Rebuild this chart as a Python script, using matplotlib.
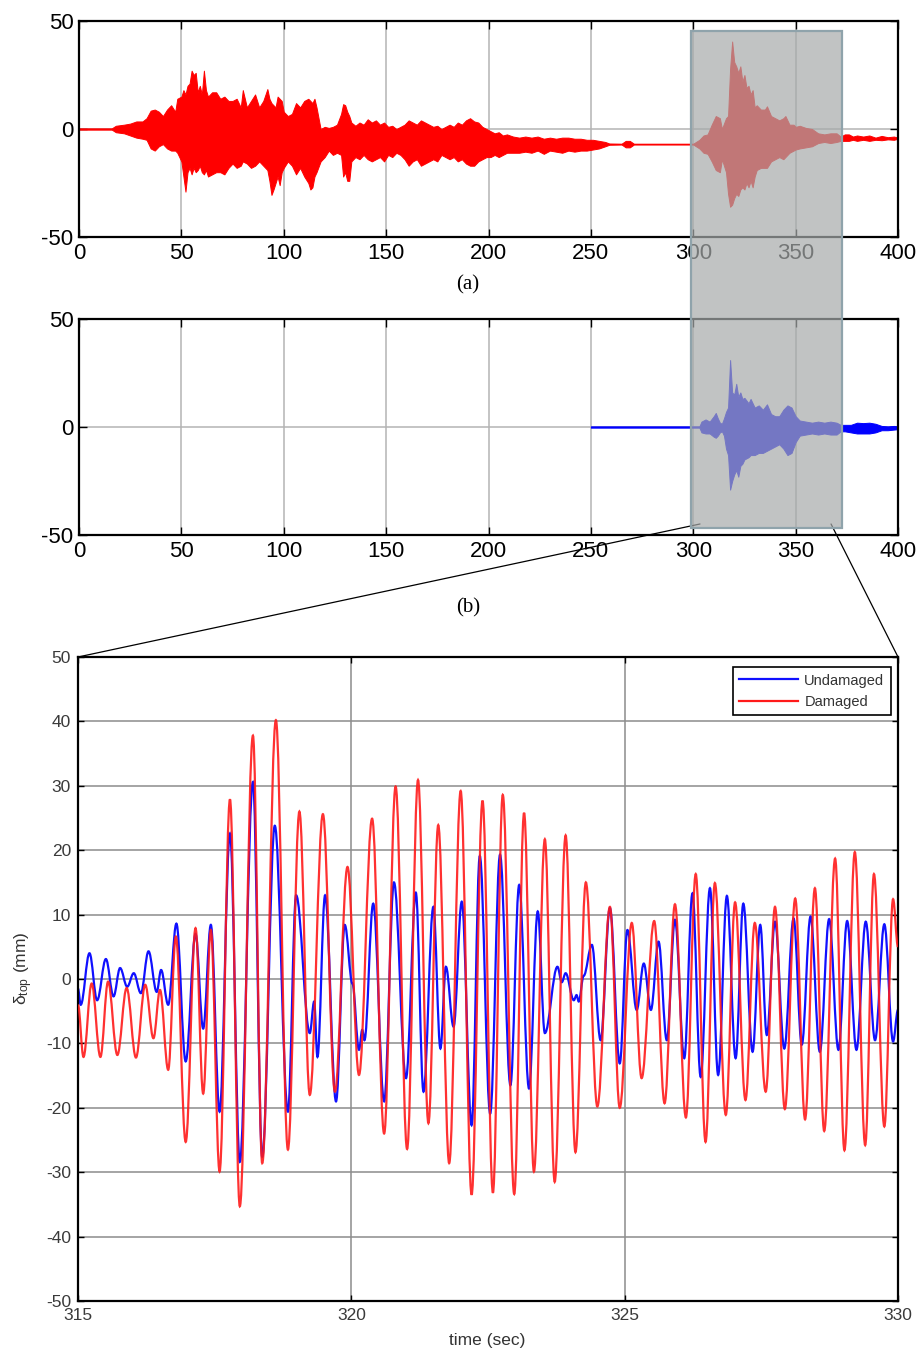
import matplotlib
matplotlib.use("Agg")
import matplotlib.pyplot as plt
from matplotlib.path import Path
from matplotlib.patches import PathPatch, Rectangle, ConnectionPatch
from matplotlib.lines import Line2D

plt.rcParams['axes.unicode_minus'] = False

# ---------------- data ----------------
# (a) damaged-structure top displacement, envelope of dense record
t_a = [0, 16, 18, 22, 25, 28, 31, 33,
       35, 37, 39, 41, 43, 45, 47, 48, 50, 51,
       52, 53, 54, 55, 56, 57, 58, 59, 60, 61,
       62, 63, 65, 67, 69, 71, 73, 75, 77, 79,
       80, 82, 84, 86, 88, 90, 92, 93, 94, 95,
       96, 97, 98, 99, 100, 102, 104, 106, 108, 110,
       112, 113, 114, 115, 116, 118, 120, 122, 124, 126,
       128, 129, 130, 131, 132, 133, 135, 137, 139, 141,
       143, 145, 147, 149, 151, 153, 155, 157, 159, 161,
       163, 165, 167, 169, 171, 173, 175, 177, 179, 181,
       183, 185, 187, 189, 191, 193, 195, 197, 199, 201,
       203, 205, 207, 209, 212, 215, 218, 221, 224, 227,
       230, 233, 236, 239, 242, 245, 248, 251, 254, 257,
       259, 265, 267, 269, 271, 300, 303, 305, 307, 309,
       311, 313, 314, 316, 317, 318, 319, 320, 321, 322,
       323, 324, 325, 326, 327, 328, 329, 330, 331, 333,
       335, 336, 338, 340, 342, 344, 345, 347, 349, 350,
       352, 355, 358, 361, 364, 367, 370, 372, 374, 376,
       378, 380, 383, 386, 389, 392, 395, 398, 400]
up_a = [0.3, 0.3, 1.5, 2, 2.5, 3.5, 3.5, 5,
        8.5, 9, 8, 6, 9, 11, 8, 14, 15, 18,
        16, 20, 21, 27, 25, 26, 17, 20, 16, 27,
        18, 15, 17, 17, 14, 15, 13, 13, 14, 10,
        18, 10, 13, 16, 10, 13, 18.5, 14, 12, 11,
        10, 15, 14, 13, 8, 6, 7, 12, 10, 13,
        14, 13, 12, 14, 10, 0, 1, 0.5, 1, 2,
        7, 11.5, 11, 8, 6, 3, 1.5, 3, 2, 4.5,
        3, 4, 2, 3, 1, 1.5, 0, 1, 2, 4,
        3, 2, 4, 3, 2, 1, 1.5, 0, 1, 2,
        1, 3, 2, 4, 5, 3.5, 3, 1, 0, -1,
        -2, -1.5, -3, -2.5, -3.5, -4, -3.5, -4, -3.5, -4.5,
        -4, -4.5, -4, -4, -4.5, -4.5, -5, -5, -5.5, -6,
        -6.7, -6.8, -5.5, -5.5, -6.8, -6.8, -5, -3, -2.5, 2,
        6, 5, 0, 5, 6, 28, 40.5, 31, 29, 26,
        29, 22, 25, 19, 20, 16, 18, 10, 11, 9,
        9, 10.5, 6, 5, 4, 5, 6, 2, 2, 1,
        1.5, 0.5, 0, -2, -2.5, -2, -2, -3.5, -2.5, -2.5,
        -3.5, -3, -3.5, -3, -4, -3.2, -3.8, -3.5, -4]
lo_a = [-0.3, -0.3, -1.5, -2, -3, -4, -4.5, -5,
        -9, -10, -8, -7, -9, -10, -10, -11, -15, -22,
        -29, -20, -18, -21, -18, -20, -19, -17, -20, -21,
        -19, -22, -21, -20, -20, -21, -18, -16, -18, -17,
        -15, -16, -18, -17, -15, -17, -19, -24, -30.5, -28,
        -25, -22, -26, -20, -18, -15, -17, -21, -18, -22,
        -25, -28, -27, -22, -20, -15, -13, -10, -12, -11,
        -12, -22, -20, -24, -24, -15, -13, -14, -12, -14,
        -15, -14, -13, -15, -12, -13, -11, -12, -14, -17,
        -15, -14, -17, -16, -15, -14, -15, -12, -13, -14,
        -13, -15, -14, -16, -17, -17, -15, -14, -13, -13,
        -12, -13, -12, -11, -11, -11, -10.5, -11, -10, -11.5,
        -10, -10.5, -11, -10, -10.5, -10, -10, -9.5, -9, -8,
        -7.3, -7.2, -8.5, -8.5, -7.2, -7.2, -9, -11, -11.5, -15,
        -19, -20, -14, -20, -30, -36, -35, -32, -30, -31,
        -28, -27, -28, -25, -27, -24, -27, -22, -19, -18,
        -18, -18, -15, -14, -13, -14, -13, -11, -10, -9.5,
        -9, -8.5, -8, -6.5, -6, -6.5, -6, -5.5, -5.5, -5.5,
        -5, -5.5, -5, -5.5, -5, -5.2, -4.8, -5, -4.5]

# (b) undamaged-structure record, envelope
t_b = [250, 303, 304, 306, 308, 310, 311, 312, 313, 314,
       315, 316, 317, 318, 319, 320, 321, 322, 323, 324,
       325, 327, 328, 330, 332, 334, 336, 338, 340, 342,
       344, 346, 348, 350, 352, 355, 358, 361, 364, 367,
       370, 372, 374, 377, 380, 383, 386, 389, 392, 395, 398, 400]
up_b = [0.3, 0.3, 2.5, 3.5, 2.5, 5, 6.5, 4, 2, 1.5,
        4, 7, 9, 31, 16, 15, 20, 14, 16, 13,
        13.5, 11, 13, 9, 10, 8, 10.5, 6, 5, 5,
        8, 10, 9, 5, 3, 2.5, 2, 2.5, 2, 2.5,
        2, 1, 1, 1, 2, 1.8, 2, 1.5, 0.5, 0.3, 0.5, 0.3]
lo_b = [-0.3, -0.3, -2.5, -3, -3, -4.5, -5, -4, -2.5, -2,
        -4, -10, -13, -29, -25, -22, -20, -23, -18, -17,
        -15, -14, -13, -13, -12, -12, -11, -10, -9, -8,
        -10, -13, -12, -7, -4, -3.5, -3, -3.5, -3, -3.5,
        -3.5, -2, -2, -2.5, -3, -3, -3, -2.5, -1.5, -1.5, -1.2, -1]

# zoomed window 315-330 s: successive turning points
t_und = [315.00, 315.05, 315.21, 315.35, 315.51, 315.65, 315.77, 315.90, 316.02, 316.15,
         316.29, 316.44, 316.52, 316.65, 316.80, 316.97, 317.15, 317.29, 317.43, 317.59,
         317.78, 317.96, 318.20, 318.37, 318.60, 318.84, 318.99, 319.24, 319.32, 319.38,
         319.52, 319.72, 319.88, 320.02, 320.14, 320.20, 320.24, 320.40, 320.60, 320.78,
         321.00, 321.18, 321.32, 321.50, 321.63, 321.73, 321.87, 322.02, 322.20, 322.35,
         322.54, 322.72, 322.91, 323.07, 323.25, 323.41, 323.54, 323.77, 323.85, 323.92,
         324.07, 324.12, 324.16, 324.25, 324.40, 324.56, 324.73, 324.91, 325.05, 325.22,
         325.35, 325.48, 325.62, 325.77, 325.92, 326.09, 326.24, 326.39, 326.56, 326.71,
         326.87, 327.03, 327.17, 327.34, 327.48, 327.60, 327.75, 327.92, 328.09, 328.24,
         328.40, 328.57, 328.74, 328.91, 329.07, 329.24, 329.41, 329.58, 329.75, 329.91,
         330.00]
v_und = [-1.5, -4.0, 4.0, -3.3, 3.1, -2.7, 1.7, -1.2, 0.9, -2.2,
         4.3, -2.0, 1.4, -4.0, 8.6, -12.8, 7.0, -7.7, 8.4, -20.6,
         22.6, -28.4, 30.6, -27.6, 23.8, -20.6, 13.0, -8.4, -3.5, -12.1,
         13.0, -19.0, 8.4, -0.7, -11.0, -7.9, -9.5, 11.7, -19.0, 15.0,
         -15.4, 13.4, -17.5, 11.2, -10.8, 1.9, -7.4, 12.0, -22.7, 19.1,
         -20.9, 19.3, -16.5, 14.6, -17.0, 10.5, -8.4, 1.9, -0.5, 0.9,
         -3.3, -2.5, -3.5, 0.5, 5.3, -9.5, 11.0, -13.1, 7.6, -4.8,
         2.4, -4.8, 5.8, -9.5, 9.2, -12.3, 13.3, -15.2, 14.1, -14.9,
         12.9, -12.3, 11.7, -11.3, 8.4, -8.7, 8.9, -10.8, 9.4, -10.2,
         9.7, -11.3, 9.3, -11.0, 9.0, -11.0, 8.9, -9.5, 8.5, -9.7,
         -4.8]
t_dam = [315.00, 315.10, 315.25, 315.41, 315.55, 315.72, 315.89, 316.06, 316.23, 316.38,
         316.50, 316.65, 316.79, 316.97, 317.15, 317.29, 317.43, 317.59, 317.78, 317.96,
         318.20, 318.37, 318.62, 318.84, 319.05, 319.24, 319.48, 319.70, 319.93, 320.14,
         320.38, 320.60, 320.81, 321.02, 321.22, 321.41, 321.59, 321.79, 322.00, 322.20,
         322.40, 322.59, 322.77, 322.98, 323.16, 323.34, 323.54, 323.72, 323.92, 324.10,
         324.29, 324.50, 324.73, 324.91, 325.13, 325.31, 325.54, 325.73, 325.92, 326.12,
         326.30, 326.48, 326.65, 326.85, 327.02, 327.21, 327.38, 327.58, 327.75, 327.93,
         328.12, 328.30, 328.48, 328.65, 328.85, 329.02, 329.21, 329.40, 329.56, 329.75,
         329.91, 330.00]
v_dam = [-4.0, -12.1, -0.7, -12.1, -0.4, -11.8, -1.4, -12.2, -0.9, -9.2,
         -1.7, -14.1, 6.6, -25.3, 7.9, -17.8, 7.6, -29.9, 27.9, -35.3,
         37.8, -28.6, 40.2, -26.5, 26.0, -18.0, 25.6, -17.5, 17.4, -14.9,
         24.9, -24.0, 29.9, -26.4, 30.9, -22.4, 23.9, -28.6, 29.2, -33.5,
         27.7, -33.2, 28.6, -33.4, 25.8, -29.9, 21.7, -31.5, 22.3, -26.9,
         15.0, -19.8, 11.2, -20.0, 8.7, -15.4, 9.0, -19.3, 11.6, -21.5,
         16.3, -25.3, 14.9, -21.1, 11.9, -18.8, 8.7, -17.5, 11.2, -20.2,
         12.5, -21.8, 14.1, -23.6, 18.7, -26.6, 19.7, -25.8, 16.3, -22.9,
         12.4, 5.0]

x_ticks_top = [0, 50, 100, 150, 200, 250, 300, 350, 400]
y_ticks_top = [-50, 0, 50]
x_ticks_zoom = [315, 320, 325, 330]
y_ticks_zoom = [-50, -40, -30, -20, -10, 0, 10, 20, 30, 40, 50]
series_names = ["Undamaged", "Damaged"]

# zoom window drawn over (a) and (b)
ZOOM_T0, ZOOM_T1 = 299.0, 372.5
ZOOM_TOP_A, ZOOM_BOT_B = 45.4, -46.8

# ---------------- figure ----------------
W, H = 920, 1355
fig = plt.figure(figsize=(W / 100, H / 100), dpi=100)


def box(l, t, r, b):
    return [l / W, 1 - b / H, (r - l) / W, (b - t) / H]


ax_a = fig.add_axes(box(79, 21, 898, 237))
ax_b = fig.add_axes(box(79, 319, 898, 535))
ax_z = fig.add_axes(box(78, 657, 898, 1301))

sans = ['Liberation Sans', 'DejaVu Sans']
for ax in (ax_a, ax_b):
    ax.set_xlim(0, 400)
    ax.set_ylim(-50, 50)
    ax.set_xticks(x_ticks_top)
    ax.set_yticks(y_ticks_top)
    ax.set_axisbelow(True)
    ax.grid(True, color='#b4b4b4', lw=1.1)
    ax.tick_params(direction='in', length=6, width=1, top=True, right=True,
                   labelsize=16, pad=4)
    for lbl in ax.get_xticklabels() + ax.get_yticklabels():
        lbl.set_fontfamily(sans)
    for s in ax.spines.values():
        s.set_linewidth(1.6)

ax_a.fill_between(t_a, lo_a, up_a, color='#ff0000', lw=0.7, edgecolor='#ff0000')
ax_b.fill_between(t_b, lo_b, up_b, color='#0000ff', lw=0.7, edgecolor='#0000ff')

fig.text(468 / W, 1 - 285 / H, '(a)', ha='center', va='center',
         family='Liberation Serif', size=15)
fig.text(468 / W, 1 - 608 / H, '(b)', ha='center', va='center',
         family='Liberation Serif', size=15)


def smooth_path(t, v):
    verts = [(t[0], v[0])]
    codes = [Path.MOVETO]
    for i in range(len(t) - 1):
        k = 0.3634 * (t[i + 1] - t[i])
        verts += [(t[i] + k, v[i]), (t[i + 1] - k, v[i + 1]), (t[i + 1], v[i + 1])]
        codes += [Path.CURVE4] * 3
    return Path(verts, codes)


col_und, col_dam = '#1010ff', '#ff1a1a'
ax_z.set_xlim(315, 330)
ax_z.set_ylim(-50, 50)
ax_z.set_xticks(x_ticks_zoom)
ax_z.set_yticks(y_ticks_zoom)
ax_z.set_axisbelow(True)
ax_z.grid(True, color='#8c8c8c', lw=1.1)
ax_z.add_patch(PathPatch(smooth_path(t_und, v_und), facecolor='none',
                         edgecolor=col_und, lw=1.6, zorder=2))
ax_z.add_patch(PathPatch(smooth_path(t_dam, v_dam), facecolor='none',
                         edgecolor=col_dam, lw=1.6, alpha=0.9, zorder=3))
ax_z.tick_params(direction='in', length=4, width=1, top=True, right=True,
                 labelsize=12.5, labelcolor='#3a3a3a', pad=5)
for lbl in ax_z.get_xticklabels() + ax_z.get_yticklabels():
    lbl.set_fontfamily(sans)
for s in ax_z.spines.values():
    s.set_linewidth(1.6)
handles = [Line2D([], [], color=col_und, lw=1.6), Line2D([], [], color=col_dam, lw=1.6)]
leg = ax_z.legend(handles, series_names, loc='upper right',
                  bbox_to_anchor=(0.9915, 0.9845), borderaxespad=0,
                  fancybox=False, framealpha=1, edgecolor='black',
                  prop={'family': sans, 'size': 10.5}, handlelength=4.0,
                  handletextpad=0.45, labelspacing=0.5, borderpad=0.45)
leg.get_frame().set_linewidth(1.2)
for txt in leg.get_texts():
    txt.set_color('#333333')

fig.text(24 / W, 1 - 968 / H, r'$\mathregular{\delta_{top}}$ (mm)', rotation=90,
         ha='center', va='center', size=12.5, color='#333333', family=sans)
fig.text(487 / W, 1 - 1341 / H, 'time (sec)', ha='center', va='center',
         size=12.5, color='#333333', family=sans)

# zoom rectangle spanning (a) and (b)
inv = fig.transFigure.inverted()
x0, y1 = inv.transform(ax_a.transData.transform((ZOOM_T0, ZOOM_TOP_A)))
x1, y0 = inv.transform(ax_b.transData.transform((ZOOM_T1, ZOOM_BOT_B)))
rect = Rectangle((x0, y0), x1 - x0, y1 - y0, transform=fig.transFigure,
                 facecolor=(0.655, 0.665, 0.665, 0.7),
                 edgecolor=(0.56, 0.64, 0.67, 1.0), lw=1.6, zorder=5)
fig.add_artist(rect)

for xa, xb in ((303.3, 315), (367.3, 330)):
    con = ConnectionPatch(xyA=(xa, -44.9), coordsA=ax_b.transData,
                          xyB=(xb, 50), coordsB=ax_z.transData,
                          color='black', lw=0.9, zorder=4)
    fig.add_artist(con)

fig.savefig('out.png', dpi=100)
